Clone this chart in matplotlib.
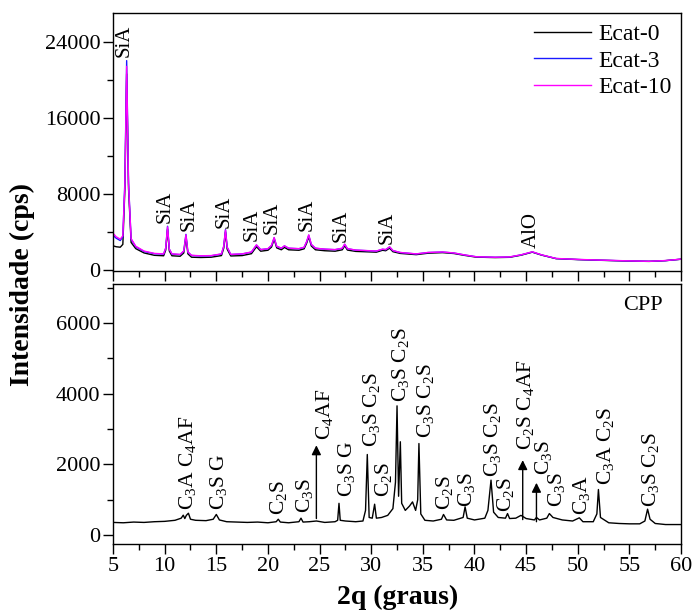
import matplotlib
matplotlib.use("Agg")
import matplotlib.pyplot as plt
from matplotlib.ticker import MultipleLocator

# Fontes (Times -> Liberation Serif)
plt.rcParams["font.family"] = ["Liberation Serif", "DejaVu Serif"]
plt.rcParams["mathtext.fontset"] = "custom"
plt.rcParams["mathtext.rm"] = "Liberation Serif"
plt.rcParams["mathtext.it"] = "Liberation Serif:italic"
plt.rcParams["mathtext.bf"] = "Liberation Serif:bold"

OUT_PNG = "out.png"

# --- Painel superior: catalisadores (2theta, cps) ---
TOP_X = [5.0, 5.3, 5.7, 5.95, 6.15, 6.32, 6.5, 6.75, 7.2, 8.0,
         9.0, 9.9, 10.1, 10.28, 10.45, 10.7, 11.5, 11.85, 12.06, 12.25,
         12.6, 13.5, 14.5, 15.5, 15.72, 15.89, 16.05, 16.4, 17.5, 18.4,
         18.89, 19.3, 20.0, 20.35, 20.6, 20.85, 21.3, 21.6, 22.0, 23.0,
         23.5, 23.75, 23.95, 24.2, 24.6, 25.5, 26.5, 27.2, 27.43, 27.7,
         28.5, 29.5, 30.5, 31.1, 31.4, 31.78, 32.1, 32.8, 34.35, 35.5,
         36.9, 38.0, 39.0, 40.15, 42.0, 43.4, 44.5, 45.6, 46.5, 47.9,
         50.0, 52.1, 54.5, 56.9, 58.5, 60.0]
ECAT10 = [3870, 3500, 3250, 3600, 9000, 21400, 9000, 3300, 2500, 2000,
          1750, 1700, 2300, 4530, 2200, 1700, 1650, 2000, 3700, 1900,
          1550, 1500, 1520, 1700, 2500, 4190, 2400, 1650, 1700, 1900,
          2650, 2150, 2250, 2600, 3420, 2500, 2300, 2550, 2300, 2250,
          2400, 3000, 3700, 2700, 2300, 2200, 2150, 2300, 2720, 2250,
          2100, 2050, 2000, 2200, 2150, 2440, 2050, 1850, 1700, 1850,
          1900, 1800, 1600, 1400, 1350, 1380, 1600, 1920, 1600, 1220,
          1120, 1050, 980, 920, 1000, 1150]
ECAT3 = [3650, 3350, 3100, 3500, 9400, 22000, 9200, 3250, 2450, 1950,
         1720, 1680, 2300, 4600, 2200, 1680, 1620, 2000, 3750, 1880,
         1530, 1480, 1500, 1680, 2500, 4250, 2400, 1630, 1690, 1880,
         2620, 2150, 2230, 2580, 3380, 2480, 2290, 2530, 2290, 2240,
         2380, 2980, 3650, 2680, 2290, 2190, 2140, 2280, 2700, 2240,
         2090, 2040, 1990, 2180, 2140, 2420, 2040, 1840, 1690, 1840,
         1890, 1790, 1590, 1400, 1340, 1370, 1590, 1900, 1590, 1210,
         1110, 1040, 970, 920, 990, 1140]
ECAT0 = [2550, 2450, 2400, 2700, 8600, 20600, 8600, 2900, 2250, 1800,
         1550, 1500, 2100, 4300, 2000, 1500, 1450, 1800, 3500, 1700,
         1350, 1320, 1350, 1520, 2300, 4000, 2200, 1480, 1520, 1720,
         2450, 1980, 2080, 2420, 3250, 2330, 2130, 2380, 2130, 2080,
         2230, 2830, 3500, 2530, 2130, 2030, 1980, 2130, 2550, 2100,
         1960, 1920, 1880, 2080, 2030, 2300, 1930, 1750, 1620, 1770,
         1830, 1740, 1550, 1360, 1310, 1340, 1560, 1880, 1570, 1200,
         1100, 1030, 960, 910, 990, 1140]

TOP_LABELS = ["SiA"] * 9 + ["AlO"]
TOP_LABEL_X = [6.07, 10.08, 12.36, 15.75, 18.46, 20.4, 23.83, 27.06, 31.51, 45.54]
TOP_LABEL_Y = [22430, 4920, 4110, 4470, 3070, 3770, 4110, 3000, 2720, 2370]

# --- Painel inferior: cimento Portland (CPP) ---
CPP_X = [5.0, 6.0, 7.0, 8.0, 9.0, 10.0, 11.0, 11.6, 11.8, 11.95,
         12.1, 12.3, 12.5, 13.0, 14.0, 14.7, 15.0, 15.3, 16.0, 17.0,
         18.0, 19.0, 20.0, 20.8, 21.0, 21.2, 22.0, 23.0, 23.2, 23.4,
         24.0, 24.7, 25.5, 26.5, 26.75, 26.88, 27.0, 27.5, 28.5, 29.2,
         29.45, 29.62, 29.8, 30.1, 30.33, 30.5, 31.0, 31.6, 32.1, 32.35,
         32.5, 32.65, 32.82, 32.95, 33.3, 33.7, 34.0, 34.3, 34.5, 34.62,
         34.8, 35.2, 36.0, 36.8, 37.0, 37.3, 38.0, 38.9, 39.09, 39.3,
         40.0, 41.0, 41.3, 41.6, 41.85, 42.3, 43.0, 43.2, 43.4, 44.0,
         44.5, 45.0, 45.8, 46.0, 46.3, 47.0, 47.25, 47.6, 48.5, 49.5,
         50.15, 50.5, 51.5, 51.85, 52.0, 52.2, 53.0, 54.0, 55.0, 56.0,
         56.5, 56.76, 57.0, 57.5, 58.5, 60.0]
CPP_Y = [360, 350, 370, 360, 380, 390, 420, 480, 565, 470,
         560, 620, 450, 420, 410, 450, 585, 430, 380, 370,
         360, 370, 350, 380, 450, 370, 350, 380, 480, 370,
         380, 400, 360, 380, 420, 900, 420, 400, 380, 400,
         700, 2280, 500, 480, 875, 480, 500, 560, 750, 1500,
         3655, 1100, 2640, 900, 700, 820, 940, 700, 1000, 2590,
         600, 420, 400, 450, 585, 430, 420, 500, 800, 480,
         430, 480, 700, 1555, 650, 500, 480, 610, 470, 480,
         560, 470, 430, 500, 430, 480, 610, 500, 430, 400,
         490, 380, 380, 600, 1290, 500, 350, 330, 320, 320,
         400, 735, 450, 330, 300, 300]

C3A = r"C$_\mathrm{3}$A"
C2S = r"C$_\mathrm{2}$S"
C3S = r"C$_\mathrm{3}$S"
C4AF = r"C$_\mathrm{4}$AF"
CPP_LABELS = [C3A + " " + C4AF, C3S + " G", C2S, C3S, C4AF, C3S + " G",
              C3S + " " + C2S, C2S, C3S + " " + C2S, C3S + " " + C2S,
              C2S, C3S, C3S + " " + C2S, C2S, C2S + " " + C4AF, C3S,
              C3S, C3A, C3A + " " + C2S, C3S + " " + C2S]
CPP_LABEL_X = [12.17, 15.17, 21.07, 23.5, 25.43, 27.56, 29.98, 31.15, 32.79, 35.3,
               37.05, 39.25, 41.75, 42.96, 44.9, 46.73, 47.96, 50.38, 52.64, 57.0]
CPP_LABEL_Y = [700, 700, 565, 620, 2690, 1080, 2490, 1080, 3770, 2740,
               707, 800, 1650, 660, 2400, 1700, 800, 565, 1410, 800]

# setas (x, base, ponta)
ARROW_X = [24.69, 44.67, 46.0]
ARROW_BASE = [470, 440, 380]
ARROW_TIP = [2540, 2120, 1480]


def style_axis(ax, ymajor, yminor):
    ax.set_xlim(5, 60)
    ax.xaxis.set_major_locator(MultipleLocator(5))
    ax.xaxis.set_minor_locator(MultipleLocator(2.5))
    ax.yaxis.set_major_locator(MultipleLocator(ymajor))
    ax.yaxis.set_minor_locator(MultipleLocator(yminor))
    ax.tick_params(which="both", direction="out", width=1.0, labelsize=16, pad=2)
    ax.tick_params(which="major", length=7)
    ax.tick_params(which="minor", length=4)
    for sp in ax.spines.values():
        sp.set_linewidth(1.0)


def main():
    fig = plt.figure(figsize=(6.96, 6.14), dpi=100)
    ax1 = fig.add_axes([0.1624, 0.5586, 0.8161, 0.4202])
    ax2 = fig.add_axes([0.1624, 0.1140, 0.8161, 0.4235])

    # Painel superior
    ax1.plot(TOP_X, ECAT0, color="black", lw=1.0, label="Ecat-0")
    ax1.plot(TOP_X, ECAT3, color="#1a1aff", lw=1.0, label="Ecat-3")
    ax1.plot(TOP_X, ECAT10, color="#ff00ff", lw=1.0, label="Ecat-10")
    ax1.set_ylim(-100, 27000)
    style_axis(ax1, 8000, 4000)
    ax1.tick_params(axis="x", labelbottom=False)
    for txt, x, y in zip(TOP_LABELS, TOP_LABEL_X, TOP_LABEL_Y):
        ax1.text(x, y, txt, rotation=90, ha="center", va="bottom", fontsize=15)
    leg = ax1.legend(loc="upper right", bbox_to_anchor=(1.0, 0.995), frameon=False,
                     fontsize=17, handlelength=2.4, handletextpad=0.3,
                     labelspacing=0.2, borderaxespad=0.0)
    for h in leg.get_lines():
        h.set_linewidth(1.0)

    # Painel inferior
    ax2.plot(CPP_X, CPP_Y, color="black", lw=1.0)
    ax2.set_ylim(-250, 7100)
    style_axis(ax2, 2000, 1000)
    for txt, x, y in zip(CPP_LABELS, CPP_LABEL_X, CPP_LABEL_Y):
        ax2.text(x, y, txt, rotation=90, ha="center", va="bottom", fontsize=15.5)
    for x, y0, y1 in zip(ARROW_X, ARROW_BASE, ARROW_TIP):
        ax2.annotate("", xy=(x, y1), xytext=(x, y0),
                     arrowprops=dict(arrowstyle="-|>", color="black", lw=1.0,
                                     mutation_scale=14, shrinkA=0, shrinkB=0))
    ax2.text(56.3, 6500, "CPP", ha="center", va="center", fontsize=16)

    # Rótulos dos eixos
    fig.text(22 / 696, 1 - 284 / 614, "Intensidade (cps)", rotation=90,
             ha="center", va="center", fontsize=20, fontweight="bold")
    fig.text(398 / 696, 1 - 597 / 614, "2q (graus)", ha="center", va="center",
             fontsize=20, fontweight="bold")

    fig.savefig(OUT_PNG, dpi=100)


if __name__ == "__main__":
    main()
